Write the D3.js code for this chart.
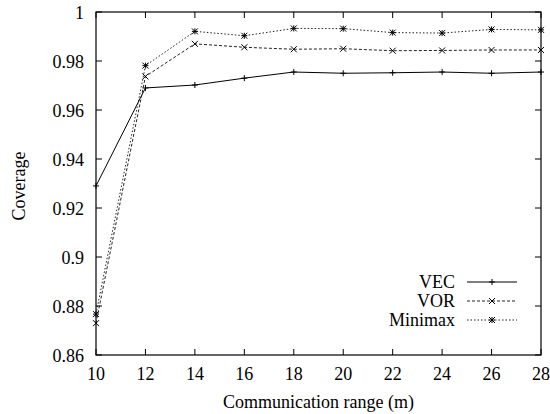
<!DOCTYPE html>
<html>
<head>
<meta charset="utf-8">
<script src="https://cdn.jsdelivr.net/npm/d3@7"></script>
<style>
  body { margin: 0; background: #fff; }
</style>
</head>
<body>
<div id="chart"></div>
<script>
var ranges = [10, 12, 14, 16, 18, 20, 22, 24, 26, 28];
var vec     = [0.929, 0.969, 0.9702, 0.973, 0.9755, 0.975, 0.9752, 0.9755, 0.975, 0.9755];
var vor     = [0.873, 0.9737, 0.987, 0.9856, 0.9848, 0.985, 0.9842, 0.9843, 0.9845, 0.9845];
var minimax = [0.8767, 0.9781, 0.9921, 0.9903, 0.9933, 0.9932, 0.9916, 0.9914, 0.9929, 0.9927];
var yTicks = [0.86, 0.88, 0.9, 0.92, 0.94, 0.96, 0.98, 1];
var seriesNames = ['VEC', 'VOR', 'Minimax'];

var width = 550, height = 414;
var m = {top: 12, right: 9, bottom: 59, left: 96};
var fontFamily = "Liberation Serif, Tinos, Times New Roman, DejaVu Serif, serif";
var fontSize = 18;

var svg = d3.select('#chart').append('svg')
    .attr('width', width)
    .attr('height', height)
    .style('font-family', fontFamily);

var x = d3.scaleLinear().domain([10, 28]).range([m.left, width - m.right]);
var y = d3.scaleLinear().domain([0.86, 1]).range([height - m.bottom, m.top]);

var tickLen = 6;

// ticks on all four sides, pointing inward
var g = svg.append('g');
ranges.forEach(function(v) {
  g.append('line').attr('x1', x(v)).attr('x2', x(v))
    .attr('y1', y(0.86)).attr('y2', y(0.86) - tickLen).attr('stroke', '#000');
  g.append('line').attr('x1', x(v)).attr('x2', x(v))
    .attr('y1', y(1)).attr('y2', y(1) + tickLen).attr('stroke', '#000');
  g.append('text').attr('x', x(v)).attr('y', y(0.86) + 25)
    .attr('text-anchor', 'middle').attr('font-size', fontSize).text(v);
});
yTicks.forEach(function(v) {
  g.append('line').attr('x1', x(10)).attr('x2', x(10) + tickLen)
    .attr('y1', y(v)).attr('y2', y(v)).attr('stroke', '#000');
  g.append('line').attr('x1', x(28)).attr('x2', x(28) - tickLen)
    .attr('y1', y(v)).attr('y2', y(v)).attr('stroke', '#000');
  g.append('text').attr('x', x(10) - 12).attr('y', y(v) + 7)
    .attr('text-anchor', 'end').attr('font-size', fontSize).text(d3.format('')(v));
});

svg.append('rect')
    .attr('x', x(10)).attr('y', y(1))
    .attr('width', x(28) - x(10)).attr('height', y(0.86) - y(1))
    .attr('fill', 'none').attr('stroke', '#000').attr('stroke-width', 1.2);

svg.append('text')
    .attr('x', (x(10) + x(28)) / 2).attr('y', 408)
    .attr('text-anchor', 'middle').attr('font-size', fontSize)
    .text('Communication range (m)');

svg.append('text')
    .attr('transform', 'translate(25,186) rotate(-90)')
    .attr('text-anchor', 'middle').attr('font-size', fontSize)
    .text('Coverage');

var styles = [
  {dash: null, color: '#000', marker: 'plus'},
  {dash: '3,2', color: '#222', marker: 'cross'},
  {dash: '1.5,2', color: '#222', marker: 'star'}
];

function drawMarker(sel, type, cx, cy) {
  var s = 3;
  var p = sel.append('g').attr('transform', 'translate(' + cx + ',' + cy + ')')
      .attr('stroke', '#000').attr('stroke-width', 1);
  if (type === 'plus' || type === 'star') {
    p.append('line').attr('x1', -s).attr('x2', s).attr('y1', 0).attr('y2', 0);
    p.append('line').attr('x1', 0).attr('x2', 0).attr('y1', -s).attr('y2', s);
  }
  if (type === 'cross' || type === 'star') {
    p.append('line').attr('x1', -s).attr('x2', s).attr('y1', -s).attr('y2', s);
    p.append('line').attr('x1', -s).attr('x2', s).attr('y1', s).attr('y2', -s);
  }
}

var line = d3.line().x(function(d) { return x(d[0]); }).y(function(d) { return y(d[1]); });

[vec, vor, minimax].forEach(function(vals, i) {
  var st = styles[i];
  var pts = ranges.map(function(r, j) { return [r, vals[j]]; });
  svg.append('path').attr('d', line(pts))
    .attr('fill', 'none').attr('stroke', st.color).attr('stroke-width', 1)
    .attr('stroke-dasharray', st.dash);
  pts.forEach(function(p) { drawMarker(svg, st.marker, x(p[0]), y(p[1])); });

  // legend
  var ly = 282 + i * 19;
  svg.append('text').attr('x', 455).attr('y', ly + 6)
    .attr('text-anchor', 'end').attr('font-size', fontSize).text(seriesNames[i]);
  svg.append('line').attr('x1', 467).attr('x2', 517).attr('y1', ly).attr('y2', ly)
    .attr('stroke', st.color).attr('stroke-width', 1).attr('stroke-dasharray', st.dash);
  drawMarker(svg, st.marker, 492, ly);
});
</script>
</body>
</html>
